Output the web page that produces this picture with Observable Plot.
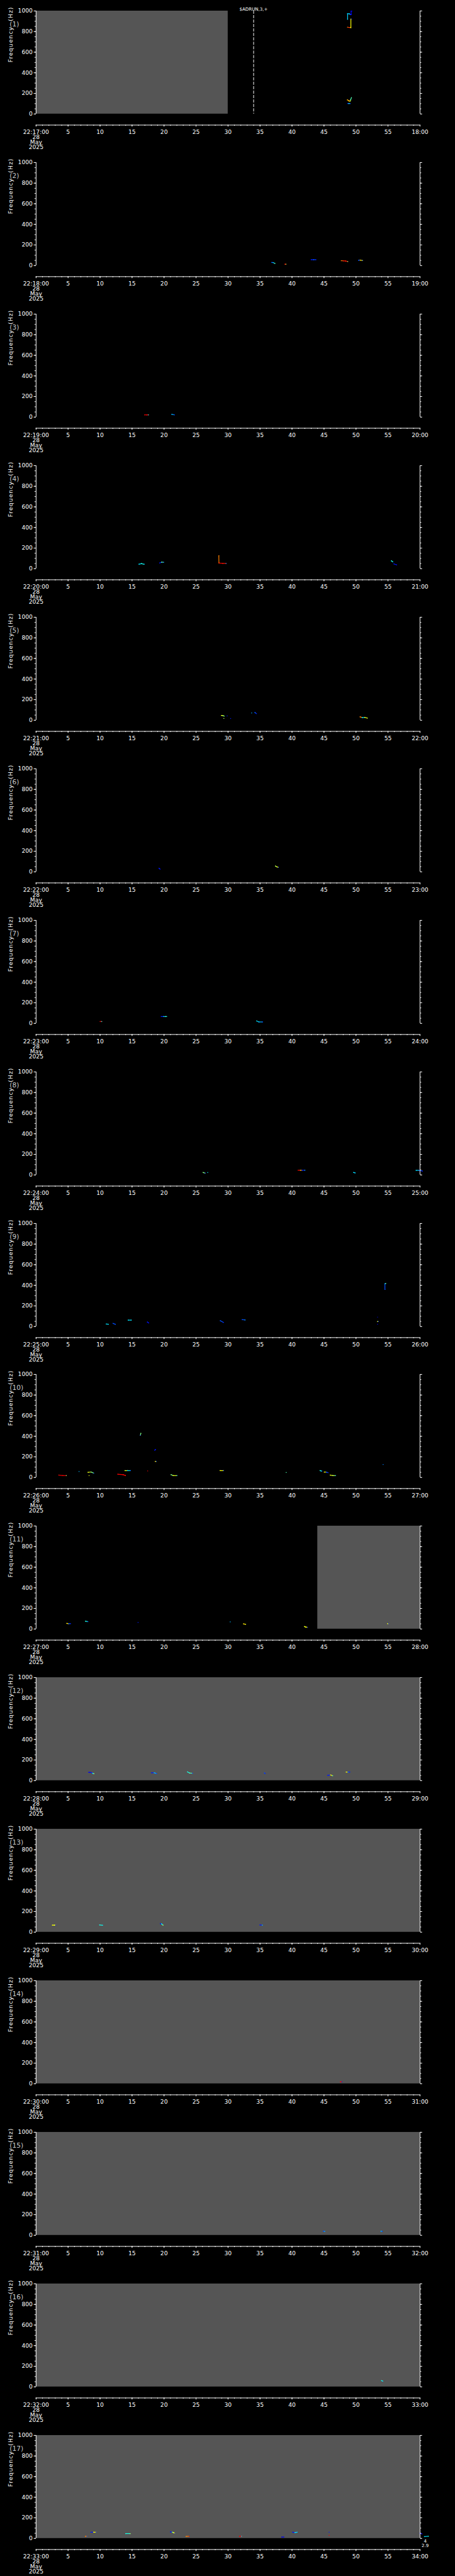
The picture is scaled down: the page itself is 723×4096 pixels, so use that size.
<!DOCTYPE html>
<html><head><meta charset="utf-8">
<script src="https://cdn.jsdelivr.net/npm/d3@7"></script>
<script src="https://cdn.jsdelivr.net/npm/@observablehq/plot@0.6"></script>
<style>
html,body{margin:0;padding:0;background:#000;}
#chart{position:relative;width:723px;height:4096px;overflow:hidden;background:#000;}
#chart > div{position:absolute;left:0;}
#chart svg{display:block;}
</style></head><body><div id="chart"></div>
<script>
// ---------- data ----------
const hour = 22;
const startMinutes = [17,18,19,20,21,22,23,24,25,26,27,28,29,30,31,32,33];
const dateLines = ["28", "May", "2025"];
const yLabel = "Frequency  (Hz)";
const xDomain = [0, 60];
const yDomain = [0, 1000];
const majorX = [0,5,10,15,20,25,30,35,40,45,50,55,60];
const minorX = d3.range(0, 61, 1);
const majorY = [0,200,400,600,800,1000];
const minorY = d3.range(0, 1001, 50);
// gray (no data) intervals: [panel, startSec, endSec]
const grayBands = [[1,0,30],[11,44,60],[12,0,60],[13,0,60],[14,0,60],[15,0,60],[16,0,60],[17,0,60]];
// dashed event markers: [panel, sec, label]
const markers = [[1, 34, "$ADRUN,3,+"]];
// stray annotation
const notes = [[17, 60.82, "4\n2.9"]];
// jet colour map
const jetStops = [0, 0.125, 0.375, 0.625, 0.875, 1];
const jetColors = ["#00007f","#0000ff","#00ffff","#ffff00","#ff0000","#7f0000"];
// traces per panel: each trace = list of [sec, Hz, colourValue]
const panel01 = [
  [[48.69,919,0.33],[48.69,974,0.33],[48.97,972,0.3],[49.13,964,0.15],[49.24,966,0.12],[49.24,999,0.12],[49.33,999,0.1]],
  [[49.2,921,0.62],[49.2,838,0.62]],
  [[48.69,842,0.78],[48.97,840,0.85],[49.15,840,0.62]],
  [[49.3,921,0.15]],
  [[48.66,137,0.7],[48.82,131,0.72],[48.95,126,0.65],[49.1,126,0.55],[49.18,141,0.45],[49.29,158,0.45]],
  [[48.7,102,0.15],[48.85,102,0.35],[49.08,102,0.2]]
];
const panel02 = [
  [[36.83,30,0.2],[37.05,29,0.35],[37.32,21,0.5]],
  [[38.9,13,0.88],[39.05,13,0.55]],
  [[43.0,57,0.15],[43.35,57,0.2],[43.72,57,0.12]],
  [[47.71,47,0.75],[48.0,46,0.85],[48.39,44,0.85],[48.71,39,0.5]],
  [[50.39,51,0.2],[50.65,53,0.65],[51.02,49,0.2]]
];
const panel03 = [
  [[16.96,22,0.9],[17.3,22,0.88],[17.55,22,0.4]],
  [[21.22,27,0.3],[21.62,22,0.15]]
];
const panel04 = [
  [[16.09,44,0.35],[16.49,49,0.4],[16.88,43,0.3]],
  [[19.33,55,0.15],[19.61,64,0.45],[19.92,62,0.2]],
  [[28.56,126,0.75],[28.58,55,0.75]],
  [[28.6,55,0.88],[29.19,52,0.85],[29.7,51,0.25]],
  [[55.54,76,0.4],[55.74,67,0.35]],
  [[55.94,46,0.15],[56.33,38,0.1]]
];
const panel05 = [
  [[28.95,47,0.6],[29.2,45,0.55],[29.39,41,0.45]],
  [[29.86,42,0.15]],
  [[29.35,17,0.55]],
  [[30.41,17,0.15]],
  [[33.69,71,0.3]],
  [[34.2,75,0.2],[34.44,65,0.1]],
  [[50.65,33,0.75],[50.97,26,0.35],[51.36,28,0.62],[51.76,21,0.55]]
];
const panel06 = [
  [[19.21,35,0.15],[19.37,26,0.1]],
  [[37.4,56,0.55],[37.63,48,0.6],[37.87,43,0.15]]
];
const panel07 = [
  [[10.02,18,0.9],[10.26,18,0.4]],
  [[19.57,66,0.15],[19.9,66,0.3],[20.2,66,0.45],[20.39,66,0.35]],
  [[34.48,23,0.35],[34.83,14,0.3],[35.39,14,0.15]]
];
const panel08 = [
  [[26.11,24,0.5],[26.43,17,0.15]],
  [[26.82,24,0.35]],
  [[40.95,46,0.9],[41.3,46,0.7],[41.6,46,0.15],[42.01,46,0.35]],
  [[49.63,24,0.35],[49.86,20,0.3]],
  [[59.4,45,0.35],[59.84,45,0.2],[60.36,38,0.12]]
];
const panel09 = [
  [[10.97,24,0.35],[11.28,22,0.35]],
  [[12.03,30,0.2],[12.39,22,0.2]],
  [[14.4,62,0.35],[14.87,62,0.35]],
  [[17.4,43,0.15],[17.6,35,0.12]],
  [[28.8,56,0.2],[29.27,40,0.15]],
  [[32.23,67,0.2],[32.66,64,0.3]],
  [[53.37,91,0.05]],
  [[53.37,48,0.6],[53.5,48,0.15]],
  [[53.37,22,0.1]],
  [[54.52,360,0.2],[54.52,415,0.3],[54.64,418,0.5]]
];
const panel10 = [
  [[3.55,23,0.88],[4.2,18,0.9],[4.73,18,0.5]],
  [[6.71,58,0.3]],
  [[8.13,50,0.6],[8.6,53,0.5],[8.99,42,0.2]],
  [[8.28,18,0.6]],
  [[13.89,66,0.6],[14.3,66,0.35],[14.75,66,0.2]],
  [[12.78,31,0.88],[13.61,27,0.88],[13.96,19,0.85]],
  [[17.44,63,0.9]],
  [[16.37,428,0.5],[16.29,409,0.15]],
  [[18.66,271,0.15],[18.54,264,0.1]],
  [[18.62,156,0.65],[18.78,156,0.2]],
  [[21.1,27,0.5],[21.42,18,0.6],[22.01,18,0.3]],
  [[28.76,66,0.62],[29.31,66,0.2]],
  [[39.09,48,0.45]],
  [[44.38,66,0.4],[44.66,61,0.2]],
  [[45.05,53,0.62],[45.37,52,0.2],[45.64,47,0.15]],
  [[45.96,23,0.6],[46.39,18,0.55],[46.79,18,0.3]],
  [[54.24,126,0.25]]
];
const panel11 = [
  [[4.81,54,0.65],[5.1,52,0.2],[5.36,52,0.15]],
  [[7.73,76,0.4],[8.09,72,0.15]],
  [[15.94,64,0.15]],
  [[30.34,69,0.3]],
  [[32.43,50,0.65],[32.74,46,0.6]],
  [[41.93,24,0.6],[42.13,19,0.62],[42.41,17,0.15]],
  [[54.95,52,0.6],[55.1,52,0.15]]
];
const panel12 = [
  [[8.25,80,0.12],[8.57,79,0.15],[8.84,71,0.35],[9.03,67,0.6]],
  [[18.05,76,0.15],[18.46,76,0.3],[18.82,69,0.15]],
  [[23.67,84,0.4],[23.99,73,0.45],[24.44,71,0.15]],
  [[35.69,74,0.2],[35.78,69,0.15]],
  [[45.58,51,0.15],[46.03,54,0.62],[46.35,47,0.4]],
  [[48.48,83,0.62],[48.75,83,0.2],[49.02,83,0.15]]
];
const panel13 = [
  [[2.56,68,0.62],[2.85,68,0.6],[3.08,67,0.1]],
  [[9.94,70,0.4],[10.37,67,0.35]],
  [[19.41,83,0.15],[19.61,80,0.38],[19.84,68,0.65]],
  [[34.99,70,0.15],[35.35,68,0.35]]
];
const panel14 = [
  [[47.57,18,0.88],[47.81,18,0.15]]
];
const panel15 = [
  [[44.9,40,0.2],[45.1,38,0.35]],
  [[53.9,40,0.3],[54.1,38,0.15]]
];
const panel16 = [
  [[54.0,60,0.4],[54.2,55,0.3]]
];
const panel17 = [
  [[7.7,21,0.75],[7.94,21,0.2]],
  [[8.57,60,0.15],[9.0,60,0.62],[9.39,60,0.15]],
  [[14.0,47,0.4],[14.7,47,0.55]],
  [[21.0,64,0.15],[21.27,60,0.5],[21.5,56,0.62],[21.68,49,0.15]],
  [[23.45,19,0.75],[23.9,21,0.88]],
  [[31.8,21,0.88],[32.1,21,0.35]],
  [[38.4,13,0.1],[38.7,13,0.12]],
  [[40.1,60,0.15],[40.45,57,0.35],[40.8,60,0.3]],
  [[45.8,60,0.15]],
  [[45.8,30,0.88]],
  [[60.0,50,0.12],[60.3,44,0.15]],
  [[60.7,17,0.35],[61.3,21,0.4]]
];
const panels = [panel01,panel02,panel03,panel04,panel05,panel06,panel07,panel08,panel09,panel10,panel11,panel12,panel13,panel14,panel15,panel16,panel17];

// ---------- layout (reference px * S) ----------
const W = 723, H = 4096, S = 723 / 1024;
const PH = H / panels.length;
const fontFamily = "'DejaVu Sans', sans-serif";
const pad2 = n => String(n).padStart(2, "0");

const root = document.getElementById("chart");
panels.forEach((traces, i) => {
  const k = i + 1;
  const m = startMinutes[i];
  const pts = [], segs = [];
  traces.forEach(tr => {
    tr.forEach(([t, f, c]) => pts.push({t, f, c}));
    for (let j = 0; j + 1 < tr.length; j++) {
      segs.push({t1: tr[j][0], f1: tr[j][1], t2: tr[j+1][0], f2: tr[j+1][1], c: tr[j][2]});
    }
  });
  const gray = grayBands.filter(g => g[0] === k).map(g => ({t1: g[1], t2: g[2]}));
  const mk = markers.filter(d => d[0] === k).map(d => ({t: d[1], label: d[2]}));
  const nt = notes.filter(d => d[0] === k).map(d => ({t: d[1], text: d[2]}));
  const fmt = d => d === xDomain[0] ? [`${hour}:${pad2(m)}:00`, ...dateLines].join("\n")
                 : d === xDomain[1] ? `${pad2(m + 1)}:00` : String(d);
  const xGap = 25 * S;
  const svg = Plot.plot({
    width: W, height: PH,
    marginLeft: 80.5 * S, marginRight: (1024 - 944.5) * S,
    marginTop: 24 * S, marginBottom: PH - 256 * S,
    x: {domain: xDomain},
    y: {domain: yDomain},
    color: {type: "linear", domain: jetStops, range: jetColors, interpolate: "rgb"},
    style: {background: "#000", color: "#fff", fontFamily, fontSize: `${13 * S}px`, overflow: "visible"},
    marks: [
      Plot.rect(gray, {x1: "t1", x2: "t2", y1: () => yDomain[0], y2: () => yDomain[1], fill: "#555555"}),
      Plot.ruleX(mk, {x: "t", stroke: "#fff", strokeWidth: 1, strokeDasharray: `${7 * S},${3 * S}`}),
      Plot.link(segs, {x1: "t1", y1: "f1", x2: "t2", y2: "f2", stroke: "c", strokeWidth: 1.2, strokeLinecap: "square"}),
      Plot.dot(pts, {x: "t", y: "f", fill: "c", r: 0.7, symbol: "square"}),
      // frame lines
      Plot.ruleX(xDomain, {stroke: "#fff", strokeWidth: 1}),
      Plot.ruleY([yDomain[0]], {dy: xGap, stroke: "#fff", strokeWidth: 1}),
      // x axis
      Plot.axisX({anchor: "bottom", ticks: minorX, tickSize: 2.2 * S, tickFormat: () => "", dy: xGap, label: null, stroke: "#fff"}),
      Plot.axisX({anchor: "bottom", ticks: majorX, tickSize: 4 * S, tickPadding: 7 * S, tickFormat: fmt, dy: xGap,
                  label: null, color: "#fff", fontSize: 13 * S, lineHeight: 0.9}),
      // y axes
      Plot.axisY({anchor: "left", ticks: minorY, tickSize: 2.8 * S, tickFormat: () => "", label: null, stroke: "#fff"}),
      Plot.axisY({anchor: "left", ticks: majorY, tickSize: 4.7 * S, tickPadding: 3 * S, tickFormat: d => String(d), label: null, color: "#fff", fontSize: 13 * S}),
      Plot.axisY({anchor: "right", ticks: minorY, tickSize: 2.2 * S, tickFormat: () => "", label: null, stroke: "#fff"}),
      Plot.axisY({anchor: "right", ticks: majorY, tickSize: 4 * S, tickFormat: () => "", label: null, stroke: "#fff"}),
      // texts
      Plot.text([yLabel], {text: d => d, frameAnchor: "left", dx: -(80.5 - 23) * S, rotate: -90, fill: "#fff", fontSize: 13 * S}),
      Plot.text([`(${k})`], {text: d => d, frameAnchor: "top-left", dx: (21 - 80.5) * S, dy: (47.7 - 24) * S, fill: "#c8c8c8", fontSize: 15 * S}),
      Plot.text(mk, {x: "t", text: "label", frameAnchor: "top", dy: (15.8 - 24) * S, fill: "#fff", fontSize: 10 * S}),
      Plot.text(nt, {x: "t", text: "text", frameAnchor: "bottom", dy: 3 * S, lineAnchor: "top", fill: "#fff", fontSize: 10 * S, lineHeight: 1})
    ]
  });
  d3.select(svg).selectAll("text").filter(function() { return this.textContent === yLabel; })
    .style("letter-spacing", `${1.6 * S}px`);
  const wrap = document.createElement("div");
  wrap.style.top = `${i * PH}px`;
  wrap.appendChild(svg);
  root.appendChild(wrap);
});
</script>
</body></html>
